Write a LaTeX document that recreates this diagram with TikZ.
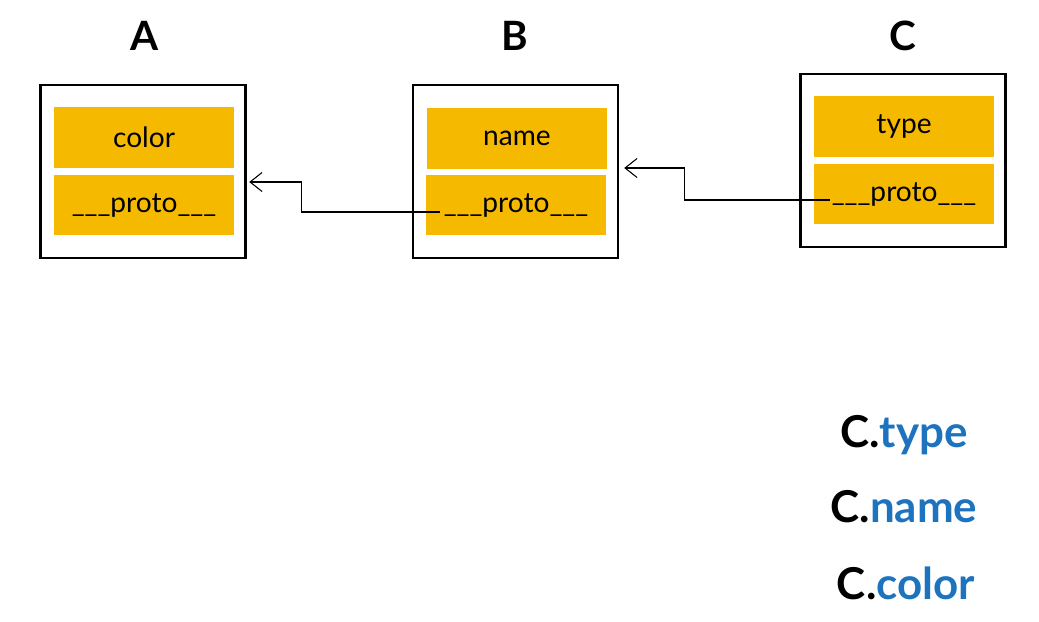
\documentclass[tikz,border=0pt]{standalone}
\usepackage{fontspec}
\setmainfont{Lato}
\usetikzlibrary{arrows.meta}
\definecolor{protoyellow}{HTML}{F5BA00}
\definecolor{lookupblue}{HTML}{1E73BE}

\begin{document}
\begin{tikzpicture}[x=0.02cm,y=-0.02cm,
    objbox/.style={draw=black,line width=1.4pt,fill=white,minimum width=4.1cm,minimum height=3.46cm},
    slot/.style={fill=protoyellow,minimum width=3.6cm,minimum height=1.22cm,font=\fontsize{16}{19}\selectfont},
    title/.style={font=\fontsize{23}{26}\selectfont\bfseries},
    lookup/.style={font=\fontsize{25}{28}\selectfont\bfseries},
    link/.style={draw=black,line width=0.6pt,-{Straight Barb[length=2.4mm,width=3.8mm]}}]
\useasboundingbox (0,0) rectangle (1039,622);
% objects on the chain
\node[title] (ta) at (145,36) {A};
\node[title] (tb) at (515,36) {B};
\node[title] (tc) at (903,36) {C};

\node[objbox] (abox) at (143,171.5) {};
\node[slot] (acolor) at (144,137.5) {color};
\node[slot] (aproto) at (144,205) {\_\_\_proto\_\_\_};

\node[objbox] (bbox) at (515.5,171.5) {};
\node[slot] (bname) at (517,138.5) {name};
\node[slot] (bproto) at (516,205) {\_\_\_proto\_\_\_};

\node[objbox] (cbox) at (903,160.5) {};
\node[slot] (ctype) at (904,126.5) {type};
\node[slot] (cproto) at (904,194) {\_\_\_proto\_\_\_};

% prototype links
\coordinate (bout) at ([xshift=0.28cm,yshift=-0.14cm]bproto.west);
\coordinate (cout) at ([xshift=0.32cm,yshift=-0.12cm]cproto.west);
\draw[link] (bout) -- ++(-138,0) |- ([yshift=-0.21cm,xshift=0.05cm]abox.east);
\draw[link] (cout) -- ++(-145,0) |- ([yshift=0.07cm,xshift=0.1cm]bbox.east);

% property lookups
\node[lookup] (ltype) at (904,435) {C.\textcolor{lookupblue}{type}};
\node[lookup] (lname) at (904,507) {C.\textcolor{lookupblue}{name}};
\node[lookup] (lcolor) at (906,583) {C.\textcolor{lookupblue}{color}};
\end{tikzpicture}
\end{document}
